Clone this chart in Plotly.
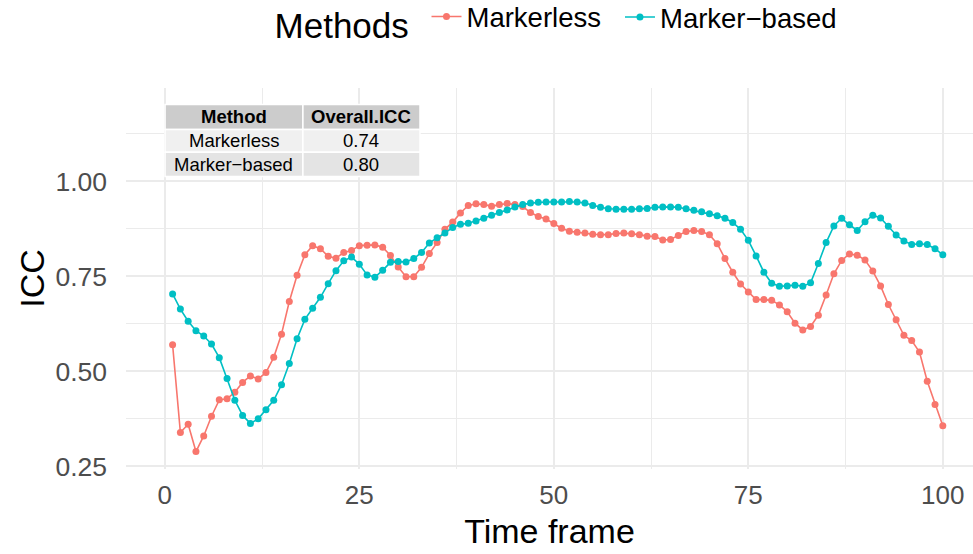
import plotly.graph_objects as go

# Time frames 1..100
frames = list(range(1, 101))

# Frame-wise ICC for the markerless system
icc_markerless = [
    0.570, 0.339, 0.361, 0.289, 0.330, 0.382, 0.425, 0.428, 0.445, 0.471,
    0.488, 0.480, 0.497, 0.537, 0.598, 0.684, 0.753, 0.807, 0.831, 0.823,
    0.803, 0.798, 0.813, 0.818, 0.831, 0.832, 0.833, 0.827, 0.805, 0.775,
    0.749, 0.749, 0.774, 0.810, 0.839, 0.874, 0.893, 0.917, 0.937, 0.941,
    0.939, 0.935, 0.939, 0.942, 0.939, 0.934, 0.918, 0.908, 0.901, 0.889,
    0.877, 0.869, 0.866, 0.864, 0.861, 0.860, 0.860, 0.863, 0.864, 0.862,
    0.860, 0.856, 0.855, 0.846, 0.847, 0.858, 0.868, 0.871, 0.868, 0.860,
    0.836, 0.797, 0.761, 0.730, 0.709, 0.689, 0.689, 0.687, 0.675, 0.657,
    0.627, 0.609, 0.618, 0.648, 0.701, 0.757, 0.792, 0.809, 0.806, 0.793,
    0.764, 0.725, 0.676, 0.636, 0.595, 0.581, 0.551, 0.474, 0.413, 0.357,
]

# Frame-wise ICC for the marker-based system
icc_marker_based = [
    0.704, 0.664, 0.632, 0.607, 0.593, 0.572, 0.536, 0.481, 0.424, 0.384,
    0.363, 0.375, 0.399, 0.424, 0.465, 0.521, 0.586, 0.637, 0.666, 0.695,
    0.731, 0.765, 0.791, 0.801, 0.782, 0.754, 0.748, 0.766, 0.787, 0.789,
    0.788, 0.797, 0.813, 0.838, 0.852, 0.864, 0.879, 0.887, 0.890, 0.896,
    0.903, 0.911, 0.918, 0.925, 0.933, 0.939, 0.943, 0.945, 0.946, 0.946,
    0.946, 0.947, 0.946, 0.943, 0.937, 0.932, 0.928, 0.927, 0.927, 0.927,
    0.928, 0.929, 0.932, 0.933, 0.933, 0.932, 0.928, 0.924, 0.920, 0.915,
    0.910, 0.903, 0.892, 0.874, 0.845, 0.804, 0.761, 0.732, 0.724, 0.725,
    0.727, 0.724, 0.733, 0.784, 0.839, 0.883, 0.903, 0.886, 0.871, 0.894,
    0.911, 0.904, 0.882, 0.859, 0.843, 0.834, 0.836, 0.834, 0.823, 0.807,
]

# Summary table
table_header = ["Method", "Overall.ICC"]
table_methods = ["Markerless", "Marker\u2212based"]
table_overall_icc = ["0.74", "0.80"]

x_ticks = [0, 25, 50, 75, 100]
y_ticks = [0.25, 0.50, 0.75, 1.00]
y_tick_labels = ["0.25", "0.50", "0.75", "1.00"]

FONT = "Liberation Sans, Arial, Helvetica, sans-serif"
RED = "#F8766D"
TEAL = "#00BFC4"
GRID = "#EBEBEB"

fig = go.Figure()

# Each series gets its own legend box so the two entries can be spaced freely
for name, vals, col, leg in [
    ("Markerless", icc_markerless, RED, "legend"),
    ("Marker\u2212based", icc_marker_based, TEAL, "legend2"),
]:
    fig.add_trace(go.Scatter(
        x=frames, y=vals, name=name, mode="lines+markers",
        line=dict(color=col, width=1.6),
        marker=dict(color=col, size=7),
        xaxis="x", yaxis="y",
        legend=leg,
    ))

# Inset summary table, laid out in data units (x: frame, y: ICC)
col_edges = [0.03, 17.75, 32.8]
row_edges = [1.2026, 1.1368, 1.0771, 1.0132]
row_fills = ["#CCCCCC", "#F0F0F0", "#E4E4E4"]
rows = [table_header] + [list(r) for r in zip(table_methods, table_overall_icc)]

for ri, row in enumerate(rows):
    for ci, txt in enumerate(row):
        x0, x1 = col_edges[ci], col_edges[ci + 1]
        y0, y1 = row_edges[ri + 1], row_edges[ri]
        fig.add_shape(
            type="rect", xref="x", yref="y",
            x0=x0, x1=x1, y0=y0, y1=y1,
            fillcolor=row_fills[ri],
            line=dict(color="white", width=1.5),
            layer="above",
        )
        fig.add_annotation(
            x=(x0 + x1) / 2, y=(y0 + y1) / 2, xref="x", yref="y",
            text=f"<b>{txt}</b>" if ri == 0 else txt,
            showarrow=False, xanchor="center", yanchor="middle",
            font=dict(family=FONT, size=18.5, color="black"),
        )

legend_common = dict(
    orientation="h",
    yanchor="middle",
    font=dict(size=27.5, color="black"),
    itemwidth=30,
    bgcolor="rgba(0,0,0,0)",
)

fig.update_layout(
    width=973, height=554,
    margin=dict(l=126, r=0, t=88, b=85, autoexpand=False),
    paper_bgcolor="white",
    plot_bgcolor="white",
    font=dict(family=FONT, color="black"),
    showlegend=True,
    legend=dict(
        x=0.173, xanchor="left", y=1.178,
        title=dict(text="Methods\u00a0", font=dict(size=35, color="black")),
        **legend_common,
    ),
    legend2=dict(
        x=0.5832, xanchor="left", y=1.186,
        **legend_common,
    ),
    xaxis=dict(
        range=[-4.99, 103.88],
        tickvals=x_ticks,
        ticktext=[str(v) for v in x_ticks],
        showgrid=True, gridcolor=GRID, gridwidth=1.6,
        minor=dict(dtick=12.5, tick0=0, showgrid=True, gridcolor=GRID, gridwidth=0.9),
        zeroline=False, showline=False, ticks="",
        tickfont=dict(size=26, color="#4D4D4D"),
        ticklabelstandoff=8,
        automargin=False,
        title=dict(text="Time frame", font=dict(size=34, color="black"), standoff=10),
    ),
    yaxis=dict(
        range=[0.243, 1.246],
        tickvals=y_ticks,
        ticktext=y_tick_labels,
        showgrid=True, gridcolor=GRID, gridwidth=1.6,
        minor=dict(dtick=0.125, tick0=0, showgrid=True, gridcolor=GRID, gridwidth=0.9),
        zeroline=False, showline=False, ticks="",
        tickfont=dict(size=26.5, color="#4D4D4D"),
        ticklabelstandoff=18,
        automargin=False,
        title=dict(text="ICC", font=dict(size=34, color="black"), standoff=0),
    ),
)

fig.write_html("out.html")
